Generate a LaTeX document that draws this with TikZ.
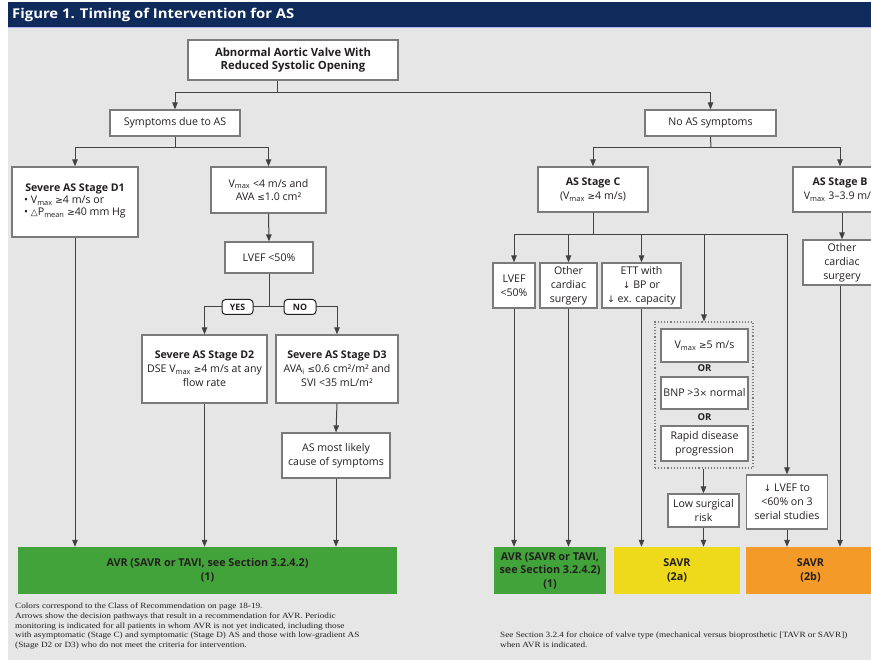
\documentclass[tikz,border=0pt]{standalone}
\usepackage{fontspec}
\setmainfont{Open Sans}
\newfontfamily\notefont{Liberation Serif}
\newfontfamily\symfont{DejaVu Sans}
\usetikzlibrary{arrows.meta,calc}

% symbols taken from DejaVu Sans, slightly reduced
\newcommand\sy[1]{{\symfont\scalebox{0.85}{#1}}}
\newcommand\sbs[1]{\textsubscript{#1}}
% widened serif for the notes under the chart
\newcommand\wide[1]{\scalebox{1.15}[1]{#1}}

\definecolor{navy}{HTML}{0E2B5C}
\definecolor{panel}{HTML}{E6E6E6}
\definecolor{edge}{HTML}{7A7A7A}
\definecolor{ink}{HTML}{231F20}
\definecolor{avrgreen}{HTML}{42A33A}
\definecolor{savryellow}{HTML}{EED91A}
\definecolor{savrorange}{HTML}{F39A28}

\tikzset{
  box/.style={draw=edge, line width=1.2pt, fill=white, align=center, inner sep=1pt,
    font=\fontsize{10.6}{13.8}\selectfont, text=ink},
  bar/.style={fill=#1, draw=none, align=center, inner sep=1pt,
    font=\bfseries\fontsize{10.8}{13.5}\selectfont, text=ink},
  ln/.style={draw=ink!85, line width=1pt},
  arr/.style={draw=ink!85, line width=1pt, -{Triangle[length=7pt,width=5.5pt]}},
  tag/.style={draw=ink, fill=white, rounded corners=3.5pt, line width=1pt,
    font=\bfseries\fontsize{8.8}{10}\selectfont, text=ink, minimum height=15pt, inner sep=1pt},
  orlabel/.style={font=\bfseries\fontsize{9.5}{11}\selectfont, text=ink, inner sep=0pt},
  note/.style={align=left, inner sep=0pt, text=ink, font=\notefont\fontsize{8}{9.6}\selectfont}
}

\begin{document}
\begin{tikzpicture}[x=1pt, y=-1pt]
\useasboundingbox (0,0) rectangle (871,660);
\clip (0,0) rectangle (871,660);

% page background, panel and title bar
\fill[white] (0,0) rectangle (871,660);
\fill[panel] (8,27) rectangle (871,660);
\fill[navy] (8,2) rectangle (871,27);
\draw[blue!30!white, line width=0.8pt] (8,27.4) -- (871,27.4);
\node[anchor=west, text=white, font=\bfseries\fontsize{13.5}{15}\selectfont, inner sep=0pt]
  (title) at (12,15) {\scalebox{1.1}[1]{Figure 1. Timing of Intervention for AS}};

% ---------- top of the tree ----------
\node[box, minimum width=210pt, minimum height=40pt, font=\bfseries\fontsize{11.3}{13.5}\selectfont]
  (top) at (293,60) {Abnormal Aortic Valve With\\Reduced Systolic Opening};
\node[box, minimum width=130pt, minimum height=26pt] (symp) at (175,123) {Symptoms due to AS};
\node[box, minimum width=131pt, minimum height=26pt] (noas) at (710.5,123) {No AS symptoms};

\coordinate (b0) at (277,93);
\draw[ln] (top.south -| b0) -- (b0);
\draw[arr] (b0) -| (symp.north);
\draw[arr] (b0) -| (noas.north);

% ---------- symptomatic branch ----------
\node[box, minimum width=126pt, minimum height=70pt] (d1) at (75,202)
  {\textbf{Severe AS Stage D1}\\[-1pt]
   \begin{tabular}{@{}l@{}}
   • V\sbs{max} \sy{≥}4 m/s or\\[-2pt]
   • \sy{△}P\sbs{mean} \sy{≥}40 mm Hg
   \end{tabular}};
\node[box, minimum width=115pt, minimum height=46pt] (vmx) at (268.5,190)
  {V\sbs{max} {<}4 m/s and\\AVA \sy{≤}1.0 cm²};
\node[box, minimum width=88pt, minimum height=31pt] (lvef) at (269,257.5) {LVEF {<}50\%};

\coordinate (b1) at (175,148);
\draw[ln] (symp.south) -- (b1);
\draw[arr] (b1) -| (d1.north);
\draw[arr] (b1) -| (vmx.north);
\draw[arr] (vmx.south) -- (lvef.north);

\node[box, minimum width=125pt, minimum height=68pt] (d2) at (204.5,369)
  {\textbf{Severe AS Stage D2}\\DSE V\sbs{max} \sy{≥}4 m/s at any\\flow rate};
\node[box, minimum width=122pt, minimum height=68pt] (d3) at (337,369)
  {\textbf{Severe AS Stage D3}\\AVA\sbs{i} \sy{≤}0.6 cm²/m² and\\SVI {<}35 mL/m²};
\node[box, minimum width=108pt, minimum height=45pt] (likely) at (336,455.5)
  {AS most likely\\cause of symptoms};

\coordinate (b2) at (269,307);
\draw[ln] (lvef.south) -- (b2);
\draw[arr] (b2) -| (d2.north);
\draw[arr] (b2) -| (d3.north);
\node[tag, minimum width=31pt] (yes) at (237.5,307) {YES};
\node[tag, minimum width=32pt] (no) at (300,307) {NO};
\draw[arr] (d3.south) -- (likely.north);

\node[bar=avrgreen, minimum width=379pt, minimum height=47pt] (bar1) at (207.5,570.5)
  {AVR (SAVR or TAVI, see Section 3.2.4.2)\\(1)};
\draw[arr] (d1.south) -- (d1.south |- bar1.north);
\draw[arr] (d2.south) -- (d2.south |- bar1.north);
\draw[arr] (likely.south) -- (likely.south |- bar1.north);

% ---------- asymptomatic branch ----------
\node[box, minimum width=110pt, minimum height=45pt] (stc) at (593,189.5)
  {\textbf{AS Stage C}\\(V\sbs{max} \sy{≥}4 m/s)};
\node[box, minimum width=94pt, minimum height=45pt] (stb) at (840,189.5)
  {\textbf{AS Stage B}\\V\sbs{max} 3–3.9 m/s};

\coordinate (b3) at (711,148);
\draw[ln] (noas.south) -- (b3);
\draw[arr] (b3) -| (stc.north);
\draw[arr] (b3) -| (stb.north);

\node[box, minimum width=42pt, minimum height=45pt] (lv50) at (514,285.5) {LVEF\\{<}50\%};
\node[box, minimum width=57pt, minimum height=45pt] (ocs) at (568.5,285.5) {Other\\cardiac\\surgery};
\node[box, minimum width=79pt, minimum height=45pt] (ett) at (641.5,285.5)
  {ETT with\\\sy{↓} BP or\\\sy{↓} ex. capacity};

% dotted group of alternative criteria
\node[draw=edge, dotted, line width=1.1pt, fill=panel, minimum width=98pt, minimum height=146pt,
  inner sep=0pt] (grp) at (704,395) {};
\node[box, minimum width=87pt, minimum height=33pt] (v5) at (704.5,345.5) {V\sbs{max} \sy{≥}5 m/s};
\node[orlabel] (or1) at (704.5,368.5) {OR};
\node[box, minimum width=87pt, minimum height=32pt] (bnp) at (704.5,393) {BNP {>}3\sy{×} normal};
\node[orlabel] (or2) at (704.5,417.5) {OR};
\node[box, minimum width=87pt, minimum height=35pt] (rapid) at (704.5,443.5) {Rapid disease\\progression};

\node[box, minimum width=71pt, minimum height=33pt] (low) at (703.5,510.5) {Low surgical\\risk};
\node[box, minimum width=81pt, minimum height=54pt] (lvd) at (787,502)
  {\sy{↓} LVEF to\\{<}60\% on 3\\serial studies};
\node[box, minimum width=78pt, minimum height=45pt] (ocsb) at (842,262.5) {Other\\cardiac\\surgery};

\coordinate (b4) at (593,235);
\draw[ln] (stc.south) -- (b4);
\draw[arr] (b4) -| (lv50.north);
\draw[arr] (b4) -| (ocs.north);
\draw[arr] (b4) -| (ett.north);
\draw[arr] (b4) -| (grp.north);
\draw[arr] (b4) -| (lvd.north);
\draw[arr] (grp.south -| low.north) -- (low.north);
\draw[arr] (stb.south -| ocsb.north) -- (ocsb.north);

\node[bar=avrgreen, minimum width=112pt, minimum height=47pt] (bar2) at (550,570.5)
  {AVR (SAVR or TAVI,\\see Section 3.2.4.2)\\(1)};
\node[bar=savryellow, minimum width=126pt, minimum height=47pt] (bar3) at (677,570.5) {SAVR\\(2a)};
\node[bar=savrorange, minimum width=129pt, minimum height=47pt] (bar4) at (810.5,570.5) {SAVR\\(2b)};

\draw[arr] (lv50.south) -- (lv50.south |- bar2.north);
\draw[arr] (ocs.south) -- (ocs.south |- bar2.north);
\draw[arr] (ett.south) -- (ett.south |- bar3.north);
\draw[arr] (low.south) -- (low.south |- bar3.north);
\draw[arr] (lvd.south) -- (lvd.south |- bar4.north);
\draw[arr] (ocsb.south -| stb.south) -- (stb.south |- bar4.north);

% ---------- notes ----------
\node[note, anchor=north west] (noteL) at (15,603)
  {\wide{Colors correspond to the Class of Recommendation on page 18-19.}\\
   \wide{Arrows show the decision pathways that result in a recommendation for AVR. Periodic}\\
   \wide{monitoring is indicated for all patients in whom AVR is not yet indicated, including those}\\
   \wide{with asymptomatic (Stage C) and symptomatic (Stage D) AS and those with low-gradient AS}\\
   \wide{(Stage D2 or D3) who do not meet the criteria for intervention.}};
\node[note, anchor=north west] (noteR) at (500,632)
  {\wide{See Section 3.2.4 for choice of valve type (mechanical versus bioprosthetic [TAVR or SAVR])}\\
   \wide{when AVR is indicated.}};
\end{tikzpicture}
\end{document}
